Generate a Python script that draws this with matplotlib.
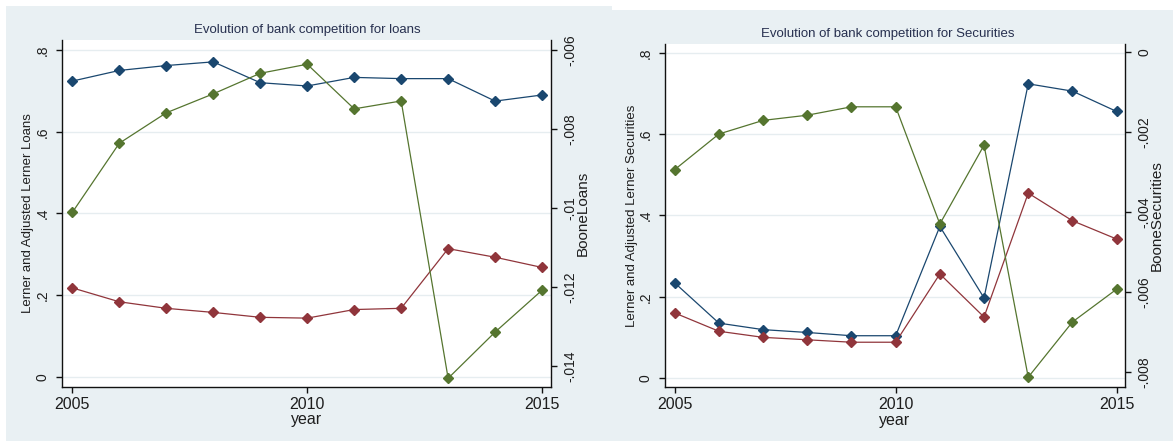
import matplotlib
matplotlib.use("Agg")
import matplotlib.pyplot as plt
from matplotlib.patches import Rectangle

plt.rcParams['font.family'] = ['Liberation Sans', 'DejaVu Sans']

# ---- data -------------------------------------------------------------
years = [2005, 2006, 2007, 2008, 2009, 2010, 2011, 2012, 2013, 2014, 2015]

lerner_loans = [0.724, 0.750, 0.762, 0.771, 0.720, 0.712, 0.733, 0.730, 0.730, 0.675, 0.690]
adj_lerner_loans = [0.218, 0.184, 0.168, 0.158, 0.146, 0.144, 0.165, 0.168, 0.314, 0.293, 0.268]
boone_loans = [-0.01011, -0.00836, -0.00759, -0.00711, -0.00659, -0.00636,
               -0.00749, -0.00729, -0.01431, -0.01314, -0.01208]

lerner_sec = [0.234, 0.135, 0.119, 0.112, 0.104, 0.104, 0.373, 0.197, 0.724, 0.706, 0.656]
adj_lerner_sec = [0.160, 0.115, 0.100, 0.094, 0.088, 0.088, 0.256, 0.150, 0.455, 0.387, 0.342]
boone_sec = [-0.00294, -0.00205, -0.00171, -0.00158, -0.00137, -0.00137,
             -0.00430, -0.00233, -0.00813, -0.00675, -0.00593]

x_ticks = [2005, 2010, 2015]
left_ticks = [0, 0.2, 0.4, 0.6, 0.8]
left_labels = ["0", ".2", ".4", ".6", ".8"]
boone_loans_ticks = [-0.014, -0.012, -0.010, -0.008, -0.006]
boone_loans_labels = ["-.014", "-.012", "-.01", "-.008", "-.006"]
boone_sec_ticks = [-0.008, -0.006, -0.004, -0.002, 0.0]
boone_sec_labels = ["-.008", "-.006", "-.004", "-.002", "0"]

# ---- style ------------------------------------------------------------
NAVY = "#1a476f"
MAROON = "#90353b"
GREEN = "#55752f"
REGION = "#e9f0f3"
GRID = "#e6edf0"
TEXT = "#1e1e1e"
TITLE = "#27304f"

W, H = 1173, 441
fig = plt.figure(figsize=(W / 100, H / 100), dpi=100, facecolor="white")

# graph-region backgrounds (pixel rectangles converted to figure fractions)
def px_rect(x0, y0, x1, y1):
    return Rectangle((x0 / W, 1 - y1 / H), (x1 - x0) / W, (y1 - y0) / H,
                     transform=fig.transFigure, facecolor=REGION,
                     edgecolor="none", zorder=-10)

fig.patches.append(px_rect(6, 6, 612, H))
fig.patches.append(px_rect(612, 10, W, H))


def axes_px(x0, y0, x1, y1):
    return fig.add_axes([x0 / W, 1 - y1 / H, (x1 - x0) / W, (y1 - y0) / H])


def panel(box, lerner, adj, boone, ylim_left, ylim_right, rticks, rlabels,
          title, title_xy, ylab_left, ylab_right, lab_x_left, lab_x_right,
          year_y):
    ax = axes_px(*box)
    ax.set_facecolor("white")
    mk = dict(marker="D", markersize=4.6, linewidth=0.9)
    ax.plot(years, lerner, color=NAVY, markerfacecolor=NAVY,
            markeredgecolor=NAVY, **mk)
    ax.plot(years, adj, color=MAROON, markerfacecolor=MAROON,
            markeredgecolor=MAROON, **mk)
    ax.set_xlim(2004.78, 2015.19)
    ax.set_ylim(*ylim_left)
    ax.set_xticks(x_ticks)
    ax.set_xticklabels([str(v) for v in x_ticks])
    ax.set_yticks(left_ticks)
    ax.set_yticklabels(left_labels, rotation=90, va="center")
    ax.grid(axis="y", color=GRID, linewidth=1.0)
    ax.set_axisbelow(True)
    for side in ("top", "right"):
        ax.spines[side].set_visible(False)
    for side in ("left", "bottom"):
        ax.spines[side].set_color("#111111")
        ax.spines[side].set_linewidth(1.0)
    ax.tick_params(axis="x", length=4, width=1, colors="#111111",
                   labelcolor=TEXT, labelsize=11.5, pad=3)
    ax.tick_params(axis="y", length=4, width=1, colors="#111111",
                   labelcolor=TEXT, labelsize=10, pad=5)

    ax2 = ax.twinx()
    ax2.plot(years, boone, color=GREEN, markerfacecolor=GREEN,
             markeredgecolor=GREEN, **mk)
    ax2.set_ylim(*ylim_right)
    ax2.set_yticks(rticks)
    ax2.set_yticklabels(rlabels, rotation=90, va="center")
    for side in ("top", "left", "bottom"):
        ax2.spines[side].set_visible(False)
    ax2.spines["right"].set_color("#111111")
    ax2.spines["right"].set_linewidth(1.0)
    ax2.tick_params(axis="y", length=4, width=1, colors="#111111",
                    labelcolor=TEXT, labelsize=10, pad=5)

    ax.set_ylabel(ylab_left, fontsize=9.5, color=TEXT)
    ax.yaxis.set_label_coords(lab_x_left, 0.5)
    ax.yaxis.label.set_verticalalignment("center")
    ax2.set_ylabel(ylab_right, fontsize=11, color=TEXT)
    ax2.yaxis.set_label_coords(lab_x_right, 0.5)
    ax2.yaxis.label.set_verticalalignment("center")

    ax.set_xlabel("year", fontsize=11.5, color=TEXT)
    ax.xaxis.set_label_coords(0.5, year_y)
    ax.xaxis.label.set_verticalalignment("center")

    fig.text(title_xy[0] / W, 1 - title_xy[1] / H, title, fontsize=9.5,
             color=TITLE, ha="center", va="center")
    return ax, ax2


panel((62, 40, 551, 387), lerner_loans, adj_lerner_loans, boone_loans,
      (-0.0245, 0.8245), (-0.01453, -0.005747),
      boone_loans_ticks, boone_loans_labels,
      "Evolution of bank competition for loans", (307, 30),
      "Lerner and Adjusted Lerner Loans", "BooneLoans",
      -0.0695, 1.0654, -0.095)

panel((665, 44, 1125, 387), lerner_sec, adj_lerner_sec, boone_sec,
      (-0.0222, 0.822), (-0.008375, 0.0002),
      boone_sec_ticks, boone_sec_labels,
      "Evolution of bank competition for Securities", (888, 34),
      "Lerner and Adjusted Lerner Securities", "BooneSecurities",
      -0.0717, 1.0696, -0.099)

fig.savefig("out.png", dpi=100, facecolor="white")
